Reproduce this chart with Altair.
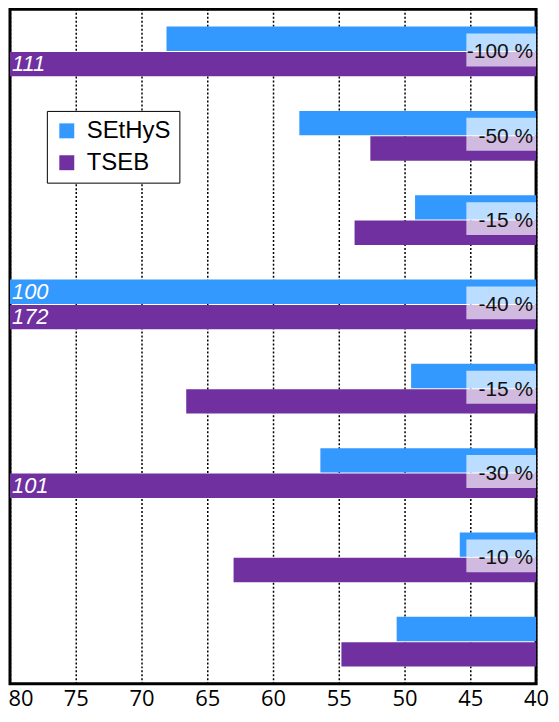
import altair as alt
import pandas as pd

groups = ["G1", "G2", "G3", "G4", "G5", "G6", "G7", "G8"]
series_names = ["SEtHyS", "TSEB"]
sethys = [68.1, 58.0, 49.2, 100, 49.5, 56.4, 45.8, 50.6]
tseb = [111, 52.6, 53.8, 172, 66.6, 101, 63.0, 54.8]
pct_labels = ["-100 %", "-50 %", "-15 %", "-40 %", "-15 %", "-30 %", "-10 %", ""]
x_ticks = [80, 75, 70, 65, 60, 55, 50, 45, 40]
colors = ["#3399FF", "#7030A0"]

rows = []
for g, a, b in zip(groups, sethys, tseb):
    rows.append({"group": g, "series": "SEtHyS", "value": a})
    rows.append({"group": g, "series": "TSEB", "value": b})
df = pd.DataFrame(rows)
lab = pd.DataFrame({"group": groups, "label": pct_labels})
lab = lab[lab["label"] != ""]

xscale = alt.Scale(domain=[40, 80], reverse=True, nice=False, zero=False, clamp=True)
yscale = alt.Scale(domain=groups, paddingInner=0.41, paddingOuter=0.205)
yoff_scale = alt.Scale(domain=series_names, paddingInner=0.04)

xaxis = alt.Axis(
    values=x_ticks, grid=True, gridDash=[2, 2], gridColor="black", gridWidth=1.5,
    gridOpacity=1, ticks=False, domain=False, labelFontSize=22, labelFont="Open Sans",
    labelColor="black", labelPadding=5, title=None, labelFlush=False, labelOverlap=False,
    labelAlign={"condition": {"test": "datum.value == 80", "value": "left"}, "value": "center"},
    labelOffset={"condition": {"test": "datum.value == 80", "value": -2}, "value": 0},
)

bars = alt.Chart(df).mark_bar().encode(
    x=alt.X("value:Q", scale=xscale, axis=xaxis),
    x2=alt.datum(40),
    y=alt.Y("group:N", scale=yscale, axis=None, sort=groups),
    yOffset=alt.YOffset("series:N", scale=yoff_scale),
    color=alt.Color(
        "series:N",
        scale=alt.Scale(domain=series_names, range=colors),
        legend=alt.Legend(
            title=None, orient="none", legendX=37, legendY=102, direction="vertical",
            symbolType="square", symbolSize=225, symbolStrokeWidth=0,
            labelFontSize=24, labelFont="Liberation Sans", labelColor="black",
            padding=8, strokeColor="black", fillColor="white", rowPadding=8, labelOffset=8,
        ),
    ),
)

boxes = alt.Chart(lab).mark_bar(color="white", opacity=0.67, height=33, yOffset=-1.5).encode(
    x=alt.datum(45.3),
    x2=alt.datum(40),
    y=alt.Y("group:N", scale=yscale, axis=None, sort=groups),
)

texts = alt.Chart(lab).mark_text(
    align="right", baseline="middle", dx=-3, dy=1, fontSize=21,
    font="Liberation Sans", color="#111111",
).encode(
    x=alt.datum(40),
    y=alt.Y("group:N", scale=yscale, axis=None, sort=groups),
    text="label:N",
)

clip_txt = alt.Chart(df).transform_filter("datum.value > 80").mark_text(
    align="left", baseline="middle", dx=2, fontSize=22, fontStyle="italic",
    font="Liberation Sans", color="white",
).encode(
    x=alt.datum(80),
    y=alt.Y("group:N", scale=yscale, axis=None, sort=groups),
    yOffset=alt.YOffset("series:N", scale=yoff_scale),
    text=alt.Text("value:Q", format="d"),
)

chart = alt.layer(bars, boxes, texts, clip_txt).properties(
    width=528, height=677,
    padding={"left": 2, "top": 0, "right": 15, "bottom": 29},
    autosize="none",
    view=alt.ViewBackground(stroke="black", strokeWidth=3, fill="white"),
).configure_legend(
    strokeWidth=2
).configure(background="white")

chart.save("out.html", embed_options={"renderer": "svg", "actions": False})
